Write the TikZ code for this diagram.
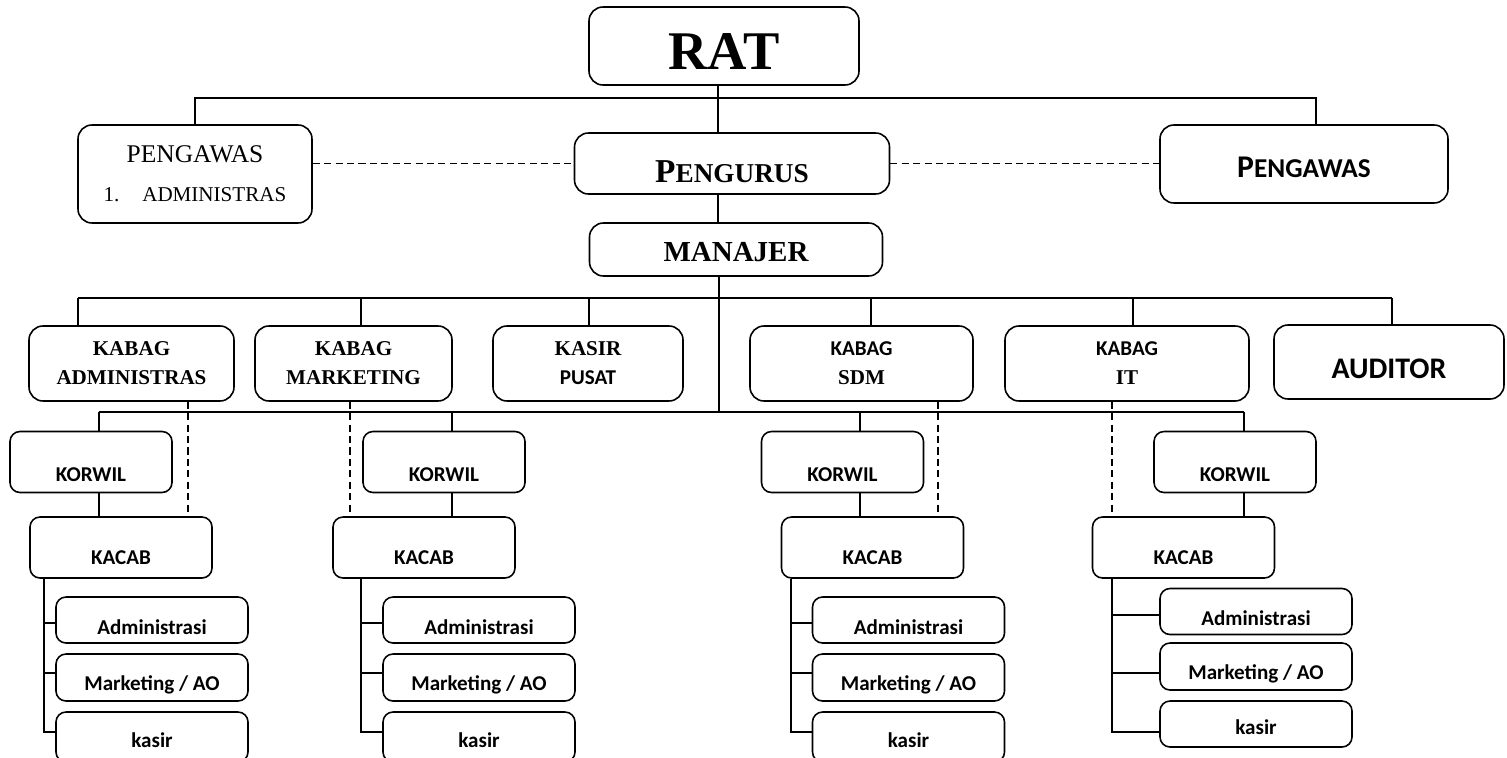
\documentclass[tikz,border=0pt]{standalone}
\usepackage{fontspec}
\setmainfont{Liberation Serif}
\newfontfamily\calibri{Carlito}

\begin{document}
\begin{tikzpicture}[x=0.02cm, y=-0.02cm]
    \tikzset{
        orgbox/.style={draw, line width=0.9pt, rounded corners=0.28cm, align=center, inner sep=2pt},
        smallbox/.style={draw, line width=0.9pt, rounded corners=0.2cm, inner sep=2pt},
        wh/.style 2 args={minimum width=#1*0.02cm, minimum height=#2*0.02cm},
        drop/.style={text height=#1, text depth=0pt},
        link/.style={line width=0.75pt},
        dashline/.style={line width=0.75pt, dash pattern=on 4pt off 2.5pt},
        serifb/.style={font=\bfseries\fontsize{12}{16.5}\selectfont},
        sansb/.style={font=\calibri\bfseries\fontsize{12}{14}\selectfont}
    }
    \useasboundingbox (0,0) rectangle (1507,757);

    % --- TOP: RAT, PENGAWAS, PENGURUS, MANAJER ---
    \node[orgbox, wh={270}{78}, drop=27pt, font=\bfseries\fontsize{31}{33}\selectfont] (rat) at (724,46) {RAT};
    \node[orgbox, wh={234}{98}, font=\fontsize{12}{22}\selectfont] (pengawasL) at (195,174)
        {{\fontsize{14.5}{22}\selectfont PENGAWAS}\\1.\hspace{13pt}ADMINISTRAS};
    \node[orgbox, wh={315}{61}, drop=22pt, font=\bfseries\fontsize{15.5}{18}\selectfont] (pengurus) at (732,163.5)
        {{\fontsize{19}{20}\selectfont P}ENGURUS};
    \node[orgbox, wh={288}{78}, drop=15pt, font=\calibri\bfseries\fontsize{15.5}{18}\selectfont] (pengawasR) at (1304,164)
        {{\fontsize{18}{20}\selectfont P}ENGAWAS};
    \node[orgbox, wh={293}{53}, drop=14pt, font=\bfseries\fontsize{16.5}{18}\selectfont] (manajer) at (736,249.5) {MANAJER};

    % --- KABAG row ---
    \node[orgbox, wh={205}{75}, serifb] (kabagAdm) at (131.5,363.5) {KABAG\\ADMINISTRAS};
    \node[orgbox, wh={197}{75}, serifb] (kabagMkt) at (353.5,363.5) {KABAG\\MARKETING};
    \node[orgbox, wh={190}{75}, serifb] (kasirPusat) at (588,363.5) {KASIR\\{\calibri PUSAT}};
    \node[orgbox, wh={223}{75}, serifb] (kabagSdm) at (861.5,363.5) {{\calibri KABAG}\\SDM};
    \node[orgbox, wh={244}{75}, serifb] (kabagIt) at (1127,363.5) {{\calibri KABAG}\\IT};
    \node[orgbox, wh={230}{74}, drop=19pt, font=\calibri\bfseries\fontsize{17}{20}\selectfont] (auditor) at (1389,362) {AUDITOR};

    % --- KORWIL / KACAB ---
    \foreach \g/\cx in {A/91, B/444, C/842.5, D/1235}
        \node[smallbox, wh={162}{61}, sansb, drop=22pt] (korwil\g) at (\cx,462) {KORWIL};
    \foreach \g/\cx in {A/121, B/424, C/872.5, D/1183.5}
        \node[smallbox, wh={182}{61}, sansb, drop=19.5pt] (kacab\g) at (\cx,547.5) {KACAB};

    % staf cabang
    \foreach \g/\cx/\ya/\yb/\yc/\hc in {A/152/620/677.5/737/50, B/479/620/677.5/737/50,
                                        C/908.5/620/677.5/737/50, D/1256/611.5/666.5/724/46} {
        \node[smallbox, wh={192}{46}, sansb, drop=16pt] (adm\g) at (\cx,\ya) {Administrasi};
        \node[smallbox, wh={192}{47}, sansb, drop=14.5pt] (mkt\g) at (\cx,\yb) {Marketing / AO};
        \node[smallbox, wh={192}{\hc}, sansb, drop=11.5pt] (kas\g) at (\cx,\yc) {kasir};
    }

    % --- connectors ---
    \coordinate (topbar) at (718,98);
    \draw[link] (pengawasL.north) |- (topbar) -| ([xshift=0.24cm]pengawasR.north);
    \draw[link] (rat.south -| topbar) -- (pengurus.north -| topbar);
    \draw[link] (pengurus.south -| topbar) -- (manajer.north -| topbar);
    \draw[dashline] (pengawasL.east |- pengurus.west) -- (pengurus.west);
    \draw[dashline] (pengurus.east) -- (pengawasR.west |- pengurus.east);

    \coordinate (hub) at (719,412);
    \draw[link] (manajer.south -| hub) -- (hub);

    \coordinate (bar2L) at (78,298);
    \coordinate (bar2R) at (1392,298);
    \draw[link] (bar2L) -- (bar2R);
    \foreach \n/\sx in {kabagAdm/78, kabagMkt/361, kasirPusat/589, kabagSdm/871, kabagIt/1133, auditor/1392}
        \draw[link] (bar2L -| \sx,0) -- (\n.north -| \sx,0);

    \coordinate (bar3L) at (99,412);
    \coordinate (bar3R) at (1244,412);
    \draw[link] (bar3L) -- (bar3R);
    \foreach \g/\sx in {A/99, B/452, C/860, D/1244} {
        \draw[link] (bar3L -| \sx,0) -- (korwil\g.north -| \sx,0);
        \draw[link] (korwil\g.south -| \sx,0) -- (kacab\g.north -| \sx,0);
    }

    % garis koordinasi
    \foreach \n/\g/\sx in {kabagAdm/A/188, kabagMkt/B/350, kabagSdm/C/938, kabagIt/D/1112}
        \draw[dashline] (\n.south -| \sx,0) -- (kacab\g.north -| \sx,0);

    \foreach \g/\sx/\ta/\tb/\tc in {A/44/623/673/732, B/361/623/673/732, C/791/623/673/732, D/1112/615/673/732} {
        \draw[link] (kacab\g.south -| \sx,0) |- (kas\g.west |- 0,\tc);
        \draw[link] (kacab\g.south -| \sx,0) |- (adm\g.west |- 0,\ta);
        \draw[link] (kacab\g.south -| \sx,0) |- (mkt\g.west |- 0,\tb);
    }

\end{tikzpicture}
\end{document}
